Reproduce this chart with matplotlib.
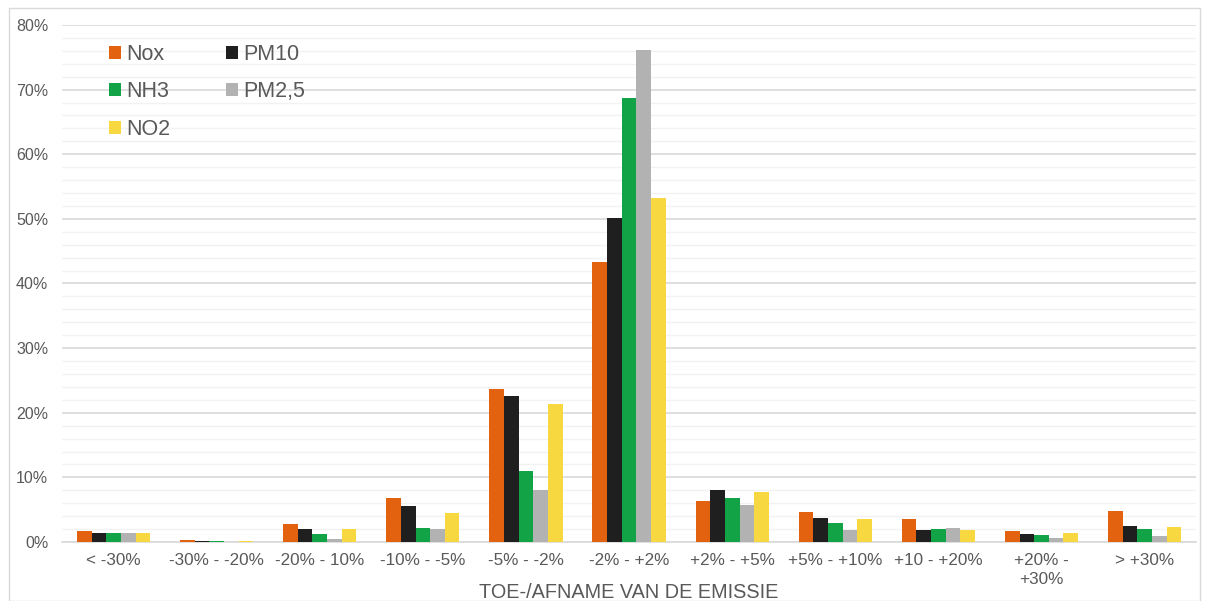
import matplotlib.pyplot as plt
from matplotlib.patches import Rectangle
from matplotlib.ticker import MultipleLocator, FuncFormatter
import numpy as np

plt.rcParams['font.family'] = ['Liberation Sans', 'DejaVu Sans']

categories = ['< -30%', '-30% - -20%', '-20% - 10%', '-10% - -5%', '-5% - -2%',
              '-2% - +2%', '+2% - +5%', '+5% - +10%', '+10 - +20%',
              '+20% -\n+30%', '> +30%']

nox = [1.7, 0.3, 2.8, 6.8, 23.7, 43.3, 6.3, 4.6, 3.5, 1.7, 4.8]
pm10 = [1.4, 0.15, 2.0, 5.6, 22.6, 50.2, 8.1, 3.7, 1.9, 1.3, 2.5]
nh3 = [1.4, 0.1, 1.2, 2.2, 11.0, 68.7, 6.8, 3.0, 2.0, 1.1, 2.0]
pm25 = [1.4, 0.05, 0.5, 2.0, 8.1, 76.1, 5.7, 1.9, 2.1, 0.6, 0.9]
no2 = [1.4, 0.1, 2.0, 4.5, 21.4, 53.2, 7.7, 3.6, 1.9, 1.4, 2.3]

series = [('Nox', nox, '#E36210'), ('PM10', pm10, '#1F1F1F'),
          ('NH3', nh3, '#12A347'), ('PM2,5', pm25, '#B2B2B2'),
          ('NO2', no2, '#F7D840')]

fig = plt.figure(figsize=(12.07, 6.01), dpi=100)
ax = fig.add_axes([0.0514, 0.0982, 0.9396, 0.8602])

x = np.arange(len(categories))
w = 0.142
bars = {}
for i, (name, vals, col) in enumerate(series):
    bars[name] = ax.bar(x + (i - 2) * w, vals, w, color=col, label=name, zorder=3)

ax.set_xlim(-0.5, 10.5)
ax.set_ylim(0, 80)
ax.yaxis.set_major_locator(MultipleLocator(10))
ax.yaxis.set_minor_locator(MultipleLocator(2))
ax.yaxis.set_major_formatter(FuncFormatter(lambda v, p: f'{v:.0f}%'))
ax.grid(axis='y', which='major', color='#D9D9D9', linewidth=1.2, zorder=0)
ax.grid(axis='y', which='minor', color='#F2F2F2', linewidth=1.0, zorder=0)
for s in ['top', 'right', 'left']:
    ax.spines[s].set_visible(False)
ax.spines['bottom'].set_color('#D9D9D9')
ax.spines['bottom'].set_linewidth(1.2)
ax.tick_params(axis='both', which='both', length=0, colors='#595959')
ax.tick_params(axis='y', pad=10, labelsize=11.5)
ax.tick_params(axis='x', pad=8, labelsize=12.3)
ax.set_xticks(x)
ax.set_xticklabels(categories, linespacing=1.35)

# axis title placed by hand: in the reference it sits level with the wrapped tick label
ax.text(0.5, -0.0968, 'TOE-/AFNAME VAN DE EMISSIE', transform=ax.transAxes,
        ha='center', va='center', color='#595959', fontsize=14.3)

order = ['Nox', 'NH3', 'NO2', 'PM10', 'PM2,5']
ax.legend([bars[n] for n in order], order, ncol=2, frameon=False,
          loc='upper left', bbox_to_anchor=(0.0414, 0.963), fontsize=15.5,
          borderaxespad=0, borderpad=0,
          handlelength=0.56, handleheight=0.56, handletextpad=0.23,
          columnspacing=2.6, labelspacing=0.76, labelcolor='#595959')

fig.patches.append(Rectangle((9 / 1207, 0), 1191 / 1207, 593 / 601,
                             transform=fig.transFigure, fill=False,
                             edgecolor='#D9D9D9', linewidth=1.0))

fig.savefig('out.png', dpi=100)
